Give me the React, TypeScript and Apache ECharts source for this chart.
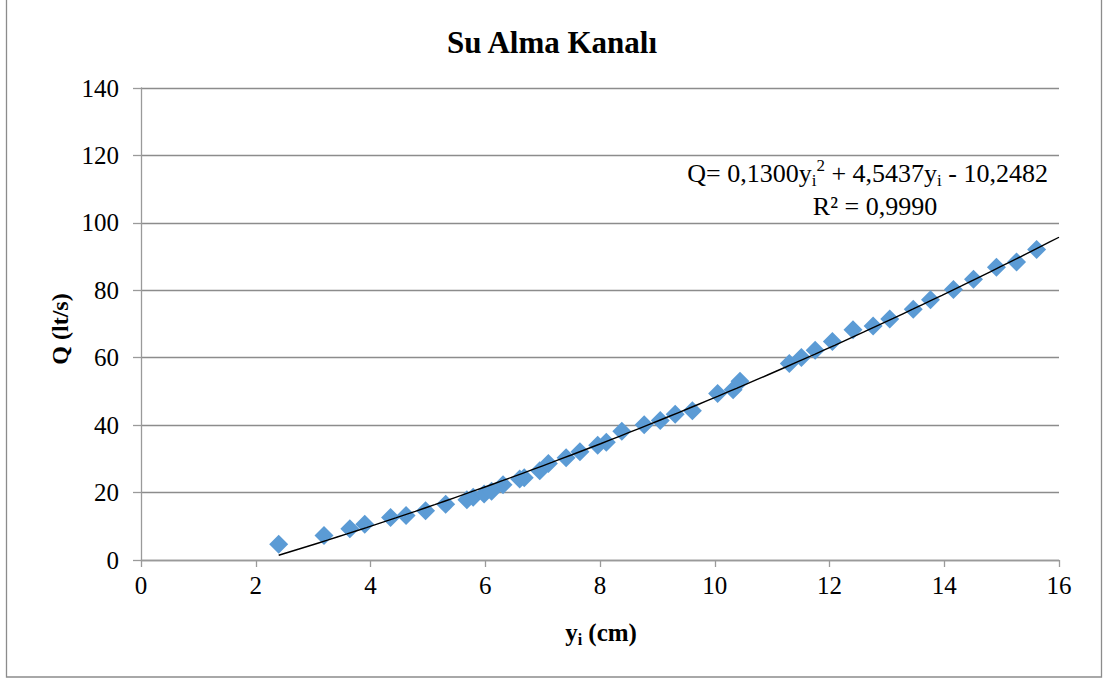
import React, { useEffect, useRef } from "react";
import * as echarts from "echarts";

const titleText = "Su Alma Kanalı";
const xTicks = [0, 2, 4, 6, 8, 10, 12, 14, 16];
const yTicks = [0, 20, 40, 60, 80, 100, 120, 140];

// measured data: y_i (cm)
const yiValues = [
  2.4, 3.19, 3.64, 3.9, 4.35, 4.62, 4.96, 5.31, 5.68, 5.79, 5.98, 6.11, 6.31, 6.6, 6.68,
  6.95, 7.1, 7.41, 7.65, 7.96, 8.11, 8.38, 8.77, 9.05, 9.31, 9.61, 10.05, 10.32, 10.44,
  11.3, 11.51, 11.75, 12.05, 12.41, 12.76, 13.05, 13.46, 13.76, 14.16, 14.51, 14.91, 15.26, 15.61,
];
// measured data: Q (lt/s)
const qValues = [
  4.7, 7.3, 9.3, 10.6, 12.6, 13.2, 14.6, 16.5, 17.9, 18.6, 19.6, 20.4, 22.3, 24.0, 24.4,
  26.5, 28.6, 30.3, 32.1, 34.0, 34.9, 38.2, 40.1, 41.4, 43.2, 44.3, 49.4, 50.5, 53.0,
  58.3, 60.1, 62.2, 64.8, 68.3, 69.4, 71.5, 74.4, 77.2, 80.2, 83.3, 86.8, 88.4, 92.1,
];

// polynomial trendline coefficients (from the chart's equation): a*x^2 + b*x + c
const trendCoefs = [0.13, 4.5437, -10.2482];
const trendRange = [2.4, 16];

export default function App() {
  const ref = useRef<HTMLDivElement>(null);
  useEffect(() => {
    if (!ref.current) return;
    const chart = echarts.init(ref.current, null, { renderer: "svg" });
    const scatterData = yiValues.map((x, i) => [x, qValues[i]]);
    const trendData: number[][] = [];
    const steps = 80;
    for (let k = 0; k <= steps; k++) {
      const x = trendRange[0] + ((trendRange[1] - trendRange[0]) * k) / steps;
      trendData.push([x, trendCoefs[0] * x * x + trendCoefs[1] * x + trendCoefs[2]]);
    }
    const serif = "Liberation Serif";
    const gray = "#9a9a9a";
    chart.setOption({
      animation: false,
      backgroundColor: "#ffffff",
      textStyle: { fontFamily: serif },
      grid: { left: 141, right: 44, top: 88, bottom: 119, containLabel: false },
      xAxis: {
        type: "value",
        min: xTicks[0],
        max: xTicks[xTicks.length - 1],
        interval: 2,
        axisLine: { lineStyle: { color: gray, width: 1.3 } },
        axisTick: { show: true, length: 7, lineStyle: { color: gray, width: 1.3 } },
        splitLine: { show: false },
        axisLabel: { color: "#000", fontSize: 25, fontFamily: serif, margin: 13 },
      },
      yAxis: {
        type: "value",
        min: yTicks[0],
        max: yTicks[yTicks.length - 1],
        interval: 20,
        axisLine: { show: true, lineStyle: { color: gray, width: 1.3 } },
        axisTick: { show: true, length: 8, lineStyle: { color: gray, width: 1.3 } },
        splitLine: { show: true, lineStyle: { color: "#8c8c8c", width: 1.3 } },
        axisLabel: { color: "#000", fontSize: 25, fontFamily: serif, margin: 22 },
      },
      series: [
        {
          type: "line",
          data: trendData,
          showSymbol: false,
          symbol: "none",
          lineStyle: { color: "#000", width: 1.4 },
          z: 3,
        },
        {
          type: "scatter",
          data: scatterData,
          symbol: "diamond",
          symbolSize: [19, 19],
          itemStyle: { color: "#5B9BD5", opacity: 1 },
          z: 2,
        },
      ],
      graphic: [
        {
          type: "rect",
          shape: { x: 6.5, y: -5, width: 1095, height: 682 },
          style: { fill: "none", stroke: "#8c8c8c", lineWidth: 1.3 },
          silent: true,
        },
        {
          type: "text",
          x: 552,
          y: 42,
          style: {
            text: titleText,
            font: `bold 31px ${serif}`,
            fill: "#000",
            align: "center",
            verticalAlign: "middle",
          },
        },
        {
          type: "text",
          x: 60,
          y: 329,
          rotation: Math.PI / 2,
          style: {
            text: "Q (lt/s)",
            font: `bold 24px ${serif}`,
            fill: "#000",
            align: "center",
            verticalAlign: "middle",
          },
        },
        {
          type: "text",
          x: 601,
          y: 632,
          style: {
            text: "{m|y}{s|i}{m| (cm)}",
            fill: "#000",
            align: "center",
            verticalAlign: "middle",
            rich: {
              m: { font: `bold 25px ${serif}`, lineHeight: 30, verticalAlign: "middle" },
              s: { font: `bold 16px ${serif}`, lineHeight: 16, verticalAlign: "bottom" },
            },
          },
        },
        {
          type: "text",
          x: 1048,
          y: 173,
          style: {
            text: "{m|Q= 0,1300y}{s|i}{p|2}{m| + 4,5437y}{s|i}{m| - 10,2482}",
            fill: "#000",
            align: "right",
            verticalAlign: "middle",
            rich: {
              m: { font: `26px ${serif}`, lineHeight: 32, verticalAlign: "middle" },
              s: { font: `17px ${serif}`, lineHeight: 17, verticalAlign: "bottom" },
              p: { font: `17px ${serif}`, lineHeight: 19, verticalAlign: "top" },
            },
          },
        },
        {
          type: "text",
          x: 875,
          y: 206,
          style: {
            text: "R² = 0,9990",
            font: `26px ${serif}`,
            fill: "#000",
            align: "center",
            verticalAlign: "middle",
          },
        },
      ],
    });
    return () => chart.dispose();
  }, []);
  return (
    <div
      ref={ref}
      style={{ position: "fixed", left: 0, top: 0, width: 1103, height: 679, background: "#fff" }}
    />
  );
}
